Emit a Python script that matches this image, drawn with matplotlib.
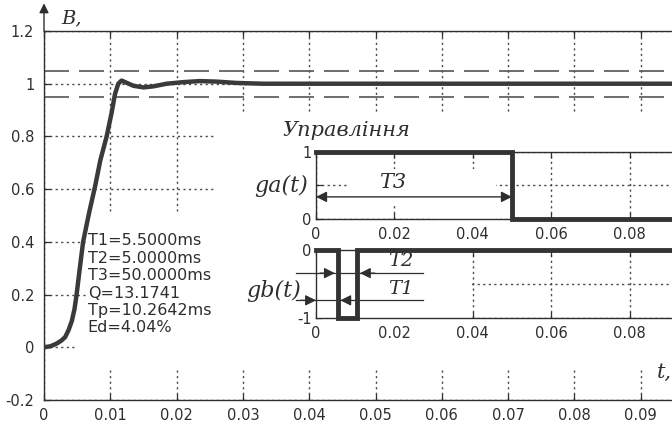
import matplotlib
matplotlib.use("Agg")
import matplotlib.pyplot as plt
from matplotlib.patches import Polygon, Rectangle
import numpy as np

# ---------------- data ----------------
t_ms = [0, 1.0, 1.9, 2.6, 3.2, 3.7, 4.2, 4.6, 4.9, 5.4, 5.9, 6.35, 6.8, 7.7,
        8.5, 9.45, 10.2, 10.7, 11.2, 11.7, 12.5, 13.5, 15.0, 16.5, 18.5, 21.0,
        23.5, 26.0, 29.0, 33.0, 40.0, 100.0]
b_vals = [0, 0.004, 0.014, 0.025, 0.039, 0.065, 0.10, 0.145, 0.197, 0.30,
          0.40, 0.455, 0.51, 0.61, 0.71, 0.80, 0.89, 0.96, 1.0, 1.012, 1.003,
          0.992, 0.986, 0.99, 1.0, 1.006, 1.01, 1.008, 1.003, 1.0, 1.0, 1.0]
band_levels = [0.95, 1.05]

T1 = 0.0055
T2 = 0.0050
T3 = 0.0500
ga_t = [0, T3, T3, 0.1]
ga_v = [1, 1, 0, 0]
gb_t = [0, T1, T1, T1 + T2, T1 + T2, 0.1]
gb_v = [0, 0, -1, -1, 0, 0]

info_lines = ["T1=5.5000ms", "T2=5.0000ms", "T3=50.0000ms",
              "Q=13.1741", "Tp=10.2642ms", "Ed=4.04%"]

main_xticks = [round(0.01 * i, 2) for i in range(11)]
main_xlabels = ["0", "0.01", "0.02", "0.03", "0.04", "0.05", "0.06", "0.07",
                "0.08", "0.09", ""]
main_yticks = [-0.2, 0, 0.2, 0.4, 0.6, 0.8, 1.0, 1.2]
main_ylabels = ["-0.2", "0", "0.2", "0.4", "0.6", "0.8", "1", "1.2"]
inset_xticks = [0, 0.02, 0.04, 0.06, 0.08, 0.1]
inset_xlabels = ["0", "0.02", "0.04", "0.06", "0.08", ""]

# ---------------- style ----------------
W, H = 672, 423
DPI = 100
INK = "#2e2e2e"
GRID = dict(color="#4a4a4a", linestyle=(0, (1.6, 2.4)), linewidth=1.0)
SERIF = ["DejaVu Serif"]
plt.rcParams["font.family"] = ["DejaVu Sans"]
plt.rcParams["text.color"] = INK

fig = plt.figure(figsize=(W / DPI, H / DPI), dpi=DPI, facecolor="white")


def px_rect(left, top, right, bottom):
    return [left / W, 1 - bottom / H, (right - left) / W, (bottom - top) / H]


def style_axes(ax, fs=10.5, padx=5, pady=4):
    for s in ax.spines.values():
        s.set_color(INK)
        s.set_linewidth(1.0)
    ax.tick_params(direction="in", length=4, width=0.9, colors=INK,
                   top=True, right=True, labelsize=fs)
    ax.tick_params(axis="x", pad=padx)
    ax.tick_params(axis="y", pad=pady)


# ---------------- main axes ----------------
ax = fig.add_axes(px_rect(44, 31, 707, 400))
ax.set_xlim(0, 0.1)
ax.set_ylim(-0.2, 1.2)
ax.set_xticks(main_xticks)
ax.set_xticklabels(main_xlabels)
ax.set_yticks(main_yticks)
ax.set_yticklabels(main_ylabels)
style_axes(ax, fs=10.5, padx=6, pady=7)
ax.grid(True, **GRID)

# white area behind the annotation block / inset labels
mask = Polygon([(0.0047, -0.085), (0.1, -0.085), (0.1, 0.88), (0.026, 0.88),
                (0.026, 0.5), (0.0067, 0.5), (0.0067, 0.05), (0.0047, 0.05)],
               closed=True, facecolor="white", edgecolor="none", zorder=1.8)
ax.add_patch(mask)

for lv in band_levels:
    ax.axhline(lv, color="#555555", lw=1.2, linestyle=(0, (15, 6)), zorder=2)

ax.plot(np.array(t_ms) / 1000.0, b_vals, color="#3a3a3a", lw=3.2,
        solid_capstyle="round", zorder=4)

for i, line in enumerate(info_lines):
    ax.text(0.0066, 0.432 - i * 0.066, line, fontsize=11.5, va="top",
            ha="left", color=INK, zorder=3)

# y-axis arrow and labels
ax.annotate("", xy=(0, 1.075), xytext=(0, 1.0), xycoords="axes fraction",
            arrowprops=dict(arrowstyle="-|>", color=INK, lw=1.0,
                            mutation_scale=14, shrinkA=0, shrinkB=0),
            annotation_clip=False)
ax.text(0.026, 1.035, "B,", transform=ax.transAxes, fontsize=14,
        family=SERIF, style="italic", va="center", ha="left")
ax.text(0.0925, -0.095, "t,", fontsize=15, family=SERIF, style="italic",
        va="center", ha="left")

# ---------------- inset ga ----------------
axa = fig.add_axes(px_rect(316, 152, 708, 219))
axa.set_facecolor("white")
axa.set_xlim(0, 0.1)
axa.set_ylim(0, 1)
axa.set_xticks(inset_xticks)
axa.set_xticklabels(inset_xlabels)
axa.set_yticks([0, 0.5, 1])
axa.set_yticklabels(["0", "", "1"])
style_axes(axa, fs=10.5, padx=6, pady=3)
axa.grid(True, **GRID)
axa.add_patch(Rectangle((0.008, 0.2), 0.038, 0.55, facecolor="white",
                        edgecolor="none", zorder=1.8))
axa.add_patch(Rectangle((0.03, 0.0), 0.016, 0.75, facecolor="white",
                        edgecolor="none", zorder=1.8))
axa.plot(ga_t, ga_v, color="#333333", lw=3.5, clip_on=False, zorder=4,
         solid_joinstyle="miter")
axa.annotate("", xy=(0, 0.33), xytext=(T3, 0.33),
             arrowprops=dict(arrowstyle="<|-|>", color=INK, lw=1.0,
                             mutation_scale=16, shrinkA=0, shrinkB=0),
             annotation_clip=False, zorder=3)
axa.text(0.0195, 0.40, "T3", fontsize=15, family=SERIF, style="italic",
         ha="center", va="bottom", zorder=3)

# ---------------- inset gb ----------------
axb = fig.add_axes(px_rect(316, 250, 708, 318))
axb.set_facecolor("white")
axb.set_xlim(0, 0.1)
axb.set_ylim(-1, 0)
axb.set_xticks(inset_xticks)
axb.set_xticklabels(inset_xlabels)
axb.set_yticks([-1, -0.5, 0])
axb.set_yticklabels(["-1", "", "0"])
style_axes(axb, fs=10.5, padx=6, pady=3)
axb.grid(True, **GRID)
axb.add_patch(Rectangle((0.0, -1), 0.039, 1, facecolor="white",
                        edgecolor="none", zorder=1.8))
axb.plot(gb_t, gb_v, color="#333333", lw=3.5, clip_on=False, zorder=4,
         solid_joinstyle="miter")

y2, y1 = -0.34, -0.74
x_left, x_right = -0.005, 0.0273
for yy in (y2, y1):
    axb.plot([x_left, x_right], [yy, yy], color=INK, lw=0.9, clip_on=False,
             zorder=3)
arrow_kw = dict(arrowstyle="-|>", color=INK, lw=0.9, mutation_scale=16,
                shrinkA=0, shrinkB=0)
# T2 dimension: arrows from outside pointing at the pulse edges
axb.annotate("", xy=(T1 - 0.0007, y2), xytext=(T1 - 0.0045, y2),
             arrowprops=arrow_kw, annotation_clip=False, zorder=5)
axb.annotate("", xy=(T1 + T2 + 0.0007, y2), xytext=(T1 + T2 + 0.0045, y2),
             arrowprops=arrow_kw, annotation_clip=False, zorder=5)
# T1 dimension
axb.annotate("", xy=(0, y1), xytext=(-0.004, y1),
             arrowprops=arrow_kw, annotation_clip=False, zorder=5)
axb.annotate("", xy=(T1 + 0.0007, y1), xytext=(T1 + 0.0035, y1),
             arrowprops=arrow_kw, annotation_clip=False, zorder=5)
axb.text(0.0215, y2 + 0.04, "T2", fontsize=14, family=SERIF, style="italic",
         ha="center", va="bottom", zorder=3)
axb.text(0.0215, y1 + 0.04, "T1", fontsize=14, family=SERIF, style="italic",
         ha="center", va="bottom", zorder=3)

# ---------------- labels outside insets ----------------
fig.text(282 / W, 1 - 131 / H, "Управління", fontsize=15, family=SERIF,
         style="italic", ha="left", va="center")
fig.text(308 / W, 1 - 186 / H, "ga(t)", fontsize=16, family=SERIF,
         style="italic", ha="right", va="center")
fig.text(301 / W, 1 - 291 / H, "gb(t)", fontsize=16, family=SERIF,
         style="italic", ha="right", va="center")

fig.savefig("out.png", dpi=DPI, facecolor="white")
